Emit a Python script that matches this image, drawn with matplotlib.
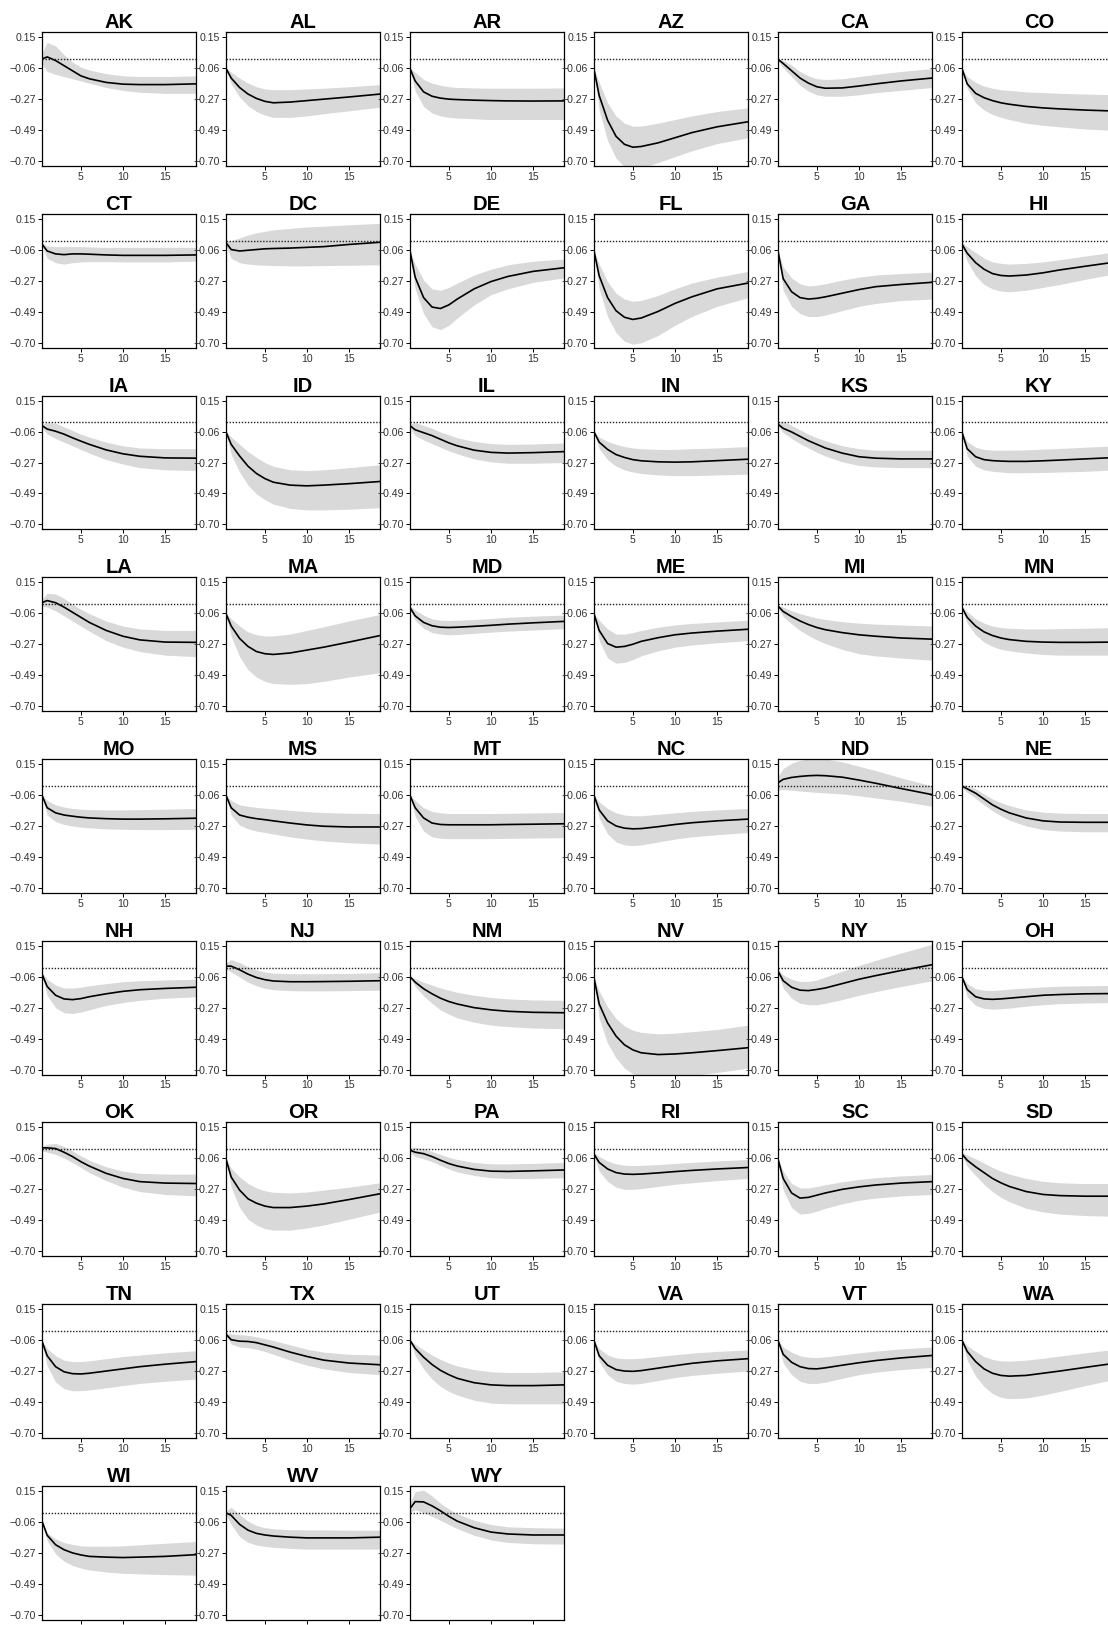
import numpy as np
import matplotlib
matplotlib.use('Agg')
import matplotlib.pyplot as plt

plt.rcParams['font.family'] = ['Liberation Sans', 'DejaVu Sans']

#
# DATA
#
states = ['AK', 'AL', 'AR', 'AZ', 'CA', 'CO',
          'CT', 'DC', 'DE', 'FL', 'GA', 'HI',
          'IA', 'ID', 'IL', 'IN', 'KS', 'KY',
          'LA', 'MA', 'MD', 'ME', 'MI', 'MN',
          'MO', 'MS', 'MT', 'NC', 'ND', 'NE',
          'NH', 'NJ', 'NM', 'NV', 'NY', 'OH',
          'OK', 'OR', 'PA', 'RI', 'SC', 'SD',
          'TN', 'TX', 'UT', 'VA', 'VT', 'WA',
          'WI', 'WV', 'WY']

horizon = [0.35, 1, 2, 3, 4, 5, 6, 8, 10, 12, 15, 18.7]

ytick_vals = [0.15, -0.0625, -0.275, -0.4875, -0.70]
ytick_labels = ['0.15', '\u22120.06', '\u22120.27', '\u22120.49', '\u22120.70']
xtick_vals = [5, 10, 15]

irf_mean = {
    'AK': [0.00, 0.015, -0.01, -0.045, -0.08, -0.115, -0.135, -0.16, -0.172, -0.175, -0.175, -0.17],
    'AL': [-0.06, -0.13, -0.195, -0.24, -0.27, -0.29, -0.30, -0.295, -0.285, -0.275, -0.26, -0.24],
    'AR': [-0.06, -0.15, -0.225, -0.255, -0.268, -0.275, -0.278, -0.282, -0.285, -0.287, -0.288, -0.287],
    'AZ': [-0.06, -0.25, -0.42, -0.53, -0.585, -0.605, -0.60, -0.575, -0.54, -0.505, -0.465, -0.43],
    'CA': [0.00, -0.03, -0.08, -0.13, -0.165, -0.19, -0.20, -0.198, -0.185, -0.17, -0.15, -0.13],
    'CO': [-0.06, -0.17, -0.235, -0.265, -0.285, -0.30, -0.31, -0.325, -0.335, -0.342, -0.35, -0.357],
    'CT': [-0.02, -0.07, -0.09, -0.095, -0.09, -0.09, -0.092, -0.097, -0.10, -0.10, -0.10, -0.097],
    'DC': [-0.01, -0.06, -0.07, -0.065, -0.06, -0.055, -0.053, -0.05, -0.045, -0.04, -0.025, -0.01],
    'DE': [-0.06, -0.25, -0.39, -0.455, -0.465, -0.44, -0.40, -0.33, -0.28, -0.245, -0.21, -0.185],
    'FL': [-0.06, -0.24, -0.39, -0.48, -0.525, -0.54, -0.53, -0.485, -0.43, -0.385, -0.33, -0.29],
    'GA': [-0.06, -0.26, -0.35, -0.39, -0.40, -0.395, -0.385, -0.36, -0.335, -0.315, -0.30, -0.285],
    'HI': [-0.02, -0.085, -0.15, -0.195, -0.225, -0.238, -0.242, -0.235, -0.22, -0.20, -0.175, -0.145],
    'IA': [-0.02, -0.045, -0.06, -0.08, -0.105, -0.128, -0.15, -0.188, -0.215, -0.232, -0.243, -0.245],
    'ID': [-0.06, -0.15, -0.23, -0.30, -0.35, -0.385, -0.41, -0.43, -0.435, -0.43, -0.42, -0.405],
    'IL': [-0.02, -0.05, -0.07, -0.09, -0.115, -0.14, -0.16, -0.19, -0.205, -0.21, -0.207, -0.20],
    'IN': [-0.06, -0.135, -0.185, -0.22, -0.24, -0.255, -0.263, -0.27, -0.272, -0.27, -0.262, -0.252],
    'KS': [-0.01, -0.04, -0.065, -0.095, -0.125, -0.15, -0.175, -0.21, -0.235, -0.245, -0.25, -0.25],
    'KY': [-0.06, -0.18, -0.235, -0.255, -0.262, -0.265, -0.267, -0.267, -0.263, -0.258, -0.25, -0.24],
    'LA': [0.01, 0.025, 0.01, -0.02, -0.055, -0.09, -0.125, -0.18, -0.22, -0.245, -0.26, -0.262],
    'MA': [-0.06, -0.15, -0.235, -0.29, -0.325, -0.34, -0.345, -0.335, -0.315, -0.295, -0.26, -0.215],
    'MD': [-0.02, -0.08, -0.125, -0.148, -0.158, -0.16, -0.158, -0.152, -0.145, -0.137, -0.128, -0.118],
    'ME': [-0.06, -0.18, -0.27, -0.295, -0.29, -0.275, -0.255, -0.23, -0.21, -0.198, -0.185, -0.172],
    'MI': [-0.01, -0.05, -0.085, -0.115, -0.14, -0.16, -0.175, -0.195, -0.21, -0.22, -0.232, -0.24],
    'MN': [-0.02, -0.09, -0.15, -0.19, -0.215, -0.232, -0.243, -0.255, -0.26, -0.262, -0.262, -0.26],
    'MO': [-0.06, -0.15, -0.185, -0.20, -0.208, -0.215, -0.22, -0.225, -0.228, -0.228, -0.226, -0.222],
    'MS': [-0.06, -0.15, -0.20, -0.215, -0.225, -0.232, -0.24, -0.255, -0.268, -0.277, -0.282, -0.282],
    'MT': [-0.06, -0.15, -0.22, -0.255, -0.265, -0.267, -0.267, -0.267, -0.267, -0.265, -0.263, -0.26],
    'NC': [-0.06, -0.165, -0.24, -0.275, -0.29, -0.295, -0.293, -0.28, -0.265, -0.253, -0.24, -0.228],
    'ND': [0.02, 0.045, 0.058, 0.065, 0.07, 0.072, 0.07, 0.06, 0.04, 0.018, -0.018, -0.06],
    'NE': [0.00, -0.02, -0.05, -0.09, -0.13, -0.16, -0.185, -0.22, -0.24, -0.248, -0.25, -0.25],
    'NH': [-0.04, -0.13, -0.19, -0.215, -0.22, -0.213, -0.20, -0.18, -0.163, -0.152, -0.143, -0.135],
    'NJ': [0.01, 0.01, -0.015, -0.045, -0.068, -0.083, -0.092, -0.097, -0.097, -0.096, -0.094, -0.09],
    'NM': [-0.06, -0.10, -0.145, -0.18, -0.21, -0.233, -0.25, -0.275, -0.29, -0.30, -0.307, -0.31],
    'NV': [-0.06, -0.25, -0.38, -0.47, -0.53, -0.565, -0.585, -0.597, -0.593, -0.585, -0.57, -0.55],
    'NY': [-0.02, -0.09, -0.135, -0.155, -0.158, -0.15, -0.14, -0.11, -0.08, -0.055, -0.02, 0.02],
    'OH': [-0.06, -0.15, -0.20, -0.215, -0.218, -0.215, -0.21, -0.20, -0.19, -0.185, -0.18, -0.178],
    'OK': [0.01, 0.01, 0.005, -0.02, -0.05, -0.085, -0.115, -0.165, -0.20, -0.222, -0.232, -0.235],
    'OR': [-0.06, -0.19, -0.28, -0.34, -0.37, -0.39, -0.40, -0.40, -0.39, -0.375, -0.345, -0.305],
    'PA': [-0.005, -0.02, -0.03, -0.05, -0.075, -0.098, -0.115, -0.138, -0.15, -0.152, -0.148, -0.142],
    'RI': [-0.03, -0.09, -0.135, -0.16, -0.17, -0.172, -0.17, -0.162, -0.153, -0.145, -0.135, -0.125],
    'SC': [-0.06, -0.20, -0.30, -0.335, -0.33, -0.315, -0.30, -0.275, -0.258, -0.245, -0.232, -0.222],
    'SD': [-0.03, -0.075, -0.12, -0.16, -0.20, -0.23, -0.255, -0.29, -0.31, -0.318, -0.322, -0.322],
    'TN': [-0.065, -0.17, -0.245, -0.28, -0.293, -0.295, -0.29, -0.275, -0.26, -0.245, -0.228, -0.21],
    'TX': [-0.02, -0.06, -0.07, -0.072, -0.08, -0.095, -0.11, -0.145, -0.175, -0.20, -0.22, -0.232],
    'UT': [-0.06, -0.12, -0.18, -0.23, -0.27, -0.30, -0.325, -0.355, -0.37, -0.375, -0.375, -0.37],
    'VA': [-0.06, -0.17, -0.235, -0.265, -0.275, -0.277, -0.272, -0.255, -0.238, -0.222, -0.205, -0.19],
    'VT': [-0.06, -0.16, -0.215, -0.245, -0.258, -0.26, -0.253, -0.235, -0.218, -0.203, -0.185, -0.168],
    'WA': [-0.06, -0.14, -0.21, -0.26, -0.29, -0.305, -0.31, -0.305, -0.29, -0.275, -0.25, -0.22],
    'WI': [-0.052, -0.155, -0.22, -0.254, -0.276, -0.29, -0.30, -0.305, -0.308, -0.305, -0.30, -0.288],
    'WV': [0.00, -0.018, -0.08, -0.12, -0.142, -0.153, -0.16, -0.168, -0.173, -0.173, -0.173, -0.168],
    'WY': [0.025, 0.076, 0.074, 0.047, 0.013, -0.025, -0.058, -0.103, -0.133, -0.146, -0.153, -0.153],
}

irf_lower = {
    'AK': [-0.03, -0.085, -0.105, -0.12, -0.135, -0.15, -0.165, -0.195, -0.215, -0.228, -0.235, -0.235],
    'AL': [-0.06, -0.17, -0.26, -0.32, -0.36, -0.385, -0.40, -0.40, -0.39, -0.375, -0.355, -0.33],
    'AR': [-0.06, -0.22, -0.325, -0.37, -0.39, -0.40, -0.405, -0.41, -0.415, -0.415, -0.415, -0.415],
    'AZ': [-0.06, -0.35, -0.56, -0.68, -0.74, -0.76, -0.75, -0.71, -0.67, -0.63, -0.58, -0.54],
    'CA': [-0.01, -0.06, -0.12, -0.18, -0.22, -0.245, -0.255, -0.255, -0.245, -0.23, -0.215, -0.195],
    'CO': [-0.06, -0.20, -0.30, -0.35, -0.38, -0.40, -0.415, -0.44, -0.455, -0.465, -0.48, -0.49],
    'CT': [-0.03, -0.12, -0.15, -0.16, -0.15, -0.145, -0.143, -0.143, -0.145, -0.145, -0.145, -0.14],
    'DC': [-0.03, -0.12, -0.15, -0.16, -0.165, -0.168, -0.17, -0.172, -0.172, -0.17, -0.168, -0.165],
    'DE': [-0.06, -0.33, -0.50, -0.59, -0.61, -0.58, -0.53, -0.44, -0.37, -0.33, -0.285, -0.255],
    'FL': [-0.06, -0.33, -0.52, -0.63, -0.69, -0.71, -0.70, -0.65, -0.58, -0.52, -0.45, -0.39],
    'GA': [-0.06, -0.34, -0.45, -0.50, -0.52, -0.52, -0.51, -0.48, -0.45, -0.43, -0.41, -0.40],
    'HI': [-0.03, -0.14, -0.24, -0.30, -0.33, -0.345, -0.35, -0.34, -0.32, -0.30, -0.265, -0.225],
    'IA': [-0.035, -0.08, -0.11, -0.135, -0.16, -0.185, -0.21, -0.255, -0.285, -0.31, -0.325, -0.33],
    'ID': [-0.06, -0.22, -0.34, -0.43, -0.49, -0.53, -0.56, -0.59, -0.60, -0.60, -0.595, -0.585],
    'IL': [-0.035, -0.09, -0.12, -0.145, -0.17, -0.195, -0.215, -0.25, -0.27, -0.28, -0.28, -0.275],
    'IN': [-0.06, -0.18, -0.255, -0.30, -0.325, -0.34, -0.35, -0.36, -0.365, -0.365, -0.36, -0.355],
    'KS': [-0.02, -0.07, -0.11, -0.145, -0.175, -0.205, -0.23, -0.27, -0.295, -0.305, -0.31, -0.31],
    'KY': [-0.06, -0.23, -0.30, -0.325, -0.335, -0.34, -0.345, -0.345, -0.343, -0.34, -0.335, -0.325],
    'LA': [-0.015, -0.02, -0.045, -0.08, -0.115, -0.15, -0.185, -0.25, -0.295, -0.325, -0.35, -0.36],
    'MA': [-0.06, -0.22, -0.36, -0.45, -0.50, -0.53, -0.545, -0.55, -0.545, -0.53, -0.50, -0.47],
    'MD': [-0.03, -0.11, -0.165, -0.195, -0.205, -0.21, -0.208, -0.20, -0.192, -0.185, -0.177, -0.168],
    'ME': [-0.06, -0.25, -0.37, -0.405, -0.40, -0.38, -0.355, -0.32, -0.295, -0.28, -0.265, -0.25],
    'MI': [-0.02, -0.085, -0.135, -0.18, -0.215, -0.245, -0.27, -0.31, -0.34, -0.355, -0.37, -0.385],
    'MN': [-0.03, -0.13, -0.21, -0.26, -0.29, -0.31, -0.32, -0.335, -0.345, -0.35, -0.35, -0.35],
    'MO': [-0.06, -0.20, -0.245, -0.265, -0.275, -0.283, -0.288, -0.295, -0.298, -0.30, -0.30, -0.298],
    'MS': [-0.06, -0.20, -0.27, -0.295, -0.31, -0.32, -0.33, -0.35, -0.365, -0.378, -0.39, -0.40],
    'MT': [-0.06, -0.21, -0.31, -0.35, -0.36, -0.362, -0.362, -0.362, -0.362, -0.36, -0.358, -0.355],
    'NC': [-0.06, -0.22, -0.33, -0.385, -0.405, -0.41, -0.405, -0.385, -0.365, -0.35, -0.335, -0.32],
    'ND': [-0.03, -0.025, -0.03, -0.035, -0.04, -0.045, -0.048, -0.055, -0.068, -0.083, -0.105, -0.14],
    'NE': [-0.01, -0.045, -0.085, -0.13, -0.17, -0.205, -0.235, -0.275, -0.30, -0.31, -0.315, -0.315],
    'NH': [-0.05, -0.19, -0.275, -0.31, -0.315, -0.305, -0.29, -0.26, -0.24, -0.225, -0.21, -0.20],
    'NJ': [-0.01, -0.03, -0.065, -0.10, -0.125, -0.142, -0.152, -0.158, -0.16, -0.16, -0.158, -0.155],
    'NM': [-0.06, -0.13, -0.195, -0.245, -0.29, -0.32, -0.345, -0.375, -0.395, -0.405, -0.415, -0.42],
    'NV': [-0.06, -0.35, -0.52, -0.62, -0.69, -0.73, -0.75, -0.76, -0.75, -0.74, -0.72, -0.69],
    'NY': [-0.03, -0.14, -0.21, -0.245, -0.255, -0.255, -0.245, -0.22, -0.19, -0.165, -0.13, -0.09],
    'OH': [-0.06, -0.20, -0.26, -0.28, -0.285, -0.283, -0.278, -0.265, -0.255, -0.248, -0.243, -0.24],
    'OK': [-0.01, -0.02, -0.035, -0.06, -0.09, -0.125, -0.16, -0.215, -0.26, -0.29, -0.31, -0.32],
    'OR': [-0.06, -0.26, -0.40, -0.48, -0.52, -0.545, -0.555, -0.555, -0.54, -0.52, -0.48, -0.43],
    'PA': [-0.02, -0.05, -0.065, -0.085, -0.11, -0.135, -0.155, -0.18, -0.195, -0.20, -0.20, -0.195],
    'RI': [-0.04, -0.15, -0.22, -0.26, -0.275, -0.275, -0.27, -0.255, -0.24, -0.23, -0.215, -0.20],
    'SC': [-0.06, -0.28, -0.40, -0.445, -0.44, -0.425, -0.405, -0.375, -0.35, -0.335, -0.32, -0.31],
    'SD': [-0.04, -0.115, -0.18, -0.24, -0.29, -0.33, -0.36, -0.405, -0.43, -0.445, -0.455, -0.46],
    'TN': [-0.07, -0.24, -0.35, -0.395, -0.41, -0.41, -0.405, -0.39, -0.375, -0.36, -0.345, -0.33],
    'TX': [-0.03, -0.09, -0.11, -0.115, -0.125, -0.14, -0.16, -0.20, -0.235, -0.26, -0.285, -0.30],
    'UT': [-0.06, -0.17, -0.26, -0.33, -0.38, -0.415, -0.44, -0.475, -0.495, -0.50, -0.50, -0.50],
    'VA': [-0.06, -0.21, -0.30, -0.345, -0.36, -0.365, -0.36, -0.34, -0.32, -0.305, -0.29, -0.275],
    'VT': [-0.06, -0.22, -0.30, -0.345, -0.36, -0.36, -0.352, -0.325, -0.30, -0.283, -0.265, -0.25],
    'WA': [-0.06, -0.20, -0.31, -0.38, -0.43, -0.455, -0.465, -0.46, -0.44, -0.415, -0.375, -0.33],
    'WI': [-0.06, -0.193, -0.283, -0.333, -0.362, -0.38, -0.393, -0.407, -0.416, -0.42, -0.425, -0.429],
    'WV': [-0.01, -0.08, -0.164, -0.204, -0.222, -0.231, -0.238, -0.245, -0.25, -0.25, -0.25, -0.25],
    'WY': [0.00, 0.02, 0.00, -0.025, -0.052, -0.081, -0.11, -0.155, -0.187, -0.204, -0.213, -0.216],
}

irf_upper = {
    'AK': [0.04, 0.115, 0.09, 0.03, -0.02, -0.055, -0.075, -0.10, -0.115, -0.12, -0.12, -0.115],
    'AL': [-0.06, -0.09, -0.13, -0.165, -0.19, -0.205, -0.21, -0.21, -0.205, -0.20, -0.19, -0.175],
    'AR': [-0.06, -0.09, -0.14, -0.165, -0.18, -0.19, -0.195, -0.198, -0.20, -0.20, -0.20, -0.198],
    'AZ': [-0.06, -0.16, -0.30, -0.39, -0.44, -0.46, -0.46, -0.44, -0.415, -0.39, -0.36, -0.335],
    'CA': [0.00, -0.01, -0.04, -0.085, -0.115, -0.135, -0.14, -0.135, -0.12, -0.105, -0.085, -0.065],
    'CO': [-0.06, -0.12, -0.16, -0.185, -0.20, -0.21, -0.215, -0.225, -0.23, -0.235, -0.24, -0.245],
    'CT': [-0.015, -0.035, -0.04, -0.04, -0.04, -0.04, -0.042, -0.045, -0.045, -0.045, -0.045, -0.045],
    'DC': [0.00, 0.00, 0.02, 0.04, 0.055, 0.065, 0.075, 0.085, 0.095, 0.10, 0.11, 0.12],
    'DE': [-0.06, -0.16, -0.27, -0.33, -0.34, -0.32, -0.29, -0.235, -0.195, -0.165, -0.14, -0.125],
    'FL': [-0.06, -0.16, -0.28, -0.36, -0.40, -0.415, -0.41, -0.375, -0.33, -0.29, -0.25, -0.21],
    'GA': [-0.06, -0.18, -0.255, -0.295, -0.31, -0.305, -0.295, -0.27, -0.25, -0.235, -0.225, -0.215],
    'HI': [-0.01, -0.04, -0.08, -0.12, -0.145, -0.155, -0.16, -0.155, -0.145, -0.13, -0.105, -0.075],
    'IA': [-0.01, 0.00, -0.005, -0.03, -0.055, -0.08, -0.10, -0.135, -0.16, -0.175, -0.18, -0.18],
    'ID': [-0.06, -0.10, -0.15, -0.20, -0.24, -0.275, -0.30, -0.325, -0.33, -0.325, -0.31, -0.29],
    'IL': [-0.01, 0.00, -0.02, -0.04, -0.065, -0.085, -0.105, -0.13, -0.145, -0.15, -0.148, -0.14],
    'IN': [-0.06, -0.10, -0.13, -0.15, -0.165, -0.175, -0.18, -0.185, -0.185, -0.18, -0.175, -0.165],
    'KS': [0.00, 0.01, -0.02, -0.05, -0.08, -0.105, -0.125, -0.16, -0.18, -0.19, -0.19, -0.19],
    'KY': [-0.06, -0.13, -0.17, -0.185, -0.19, -0.19, -0.19, -0.188, -0.183, -0.178, -0.17, -0.16],
    'LA': [0.03, 0.075, 0.07, 0.04, 0.00, -0.035, -0.065, -0.115, -0.15, -0.17, -0.18, -0.18],
    'MA': [-0.06, -0.10, -0.15, -0.19, -0.21, -0.218, -0.218, -0.205, -0.18, -0.155, -0.115, -0.07],
    'MD': [-0.01, -0.04, -0.075, -0.10, -0.11, -0.112, -0.11, -0.105, -0.098, -0.09, -0.082, -0.075],
    'ME': [-0.06, -0.11, -0.17, -0.205, -0.205, -0.195, -0.18, -0.158, -0.142, -0.132, -0.122, -0.11],
    'MI': [-0.005, -0.02, -0.045, -0.065, -0.08, -0.095, -0.105, -0.12, -0.13, -0.137, -0.143, -0.15],
    'MN': [-0.01, -0.05, -0.10, -0.13, -0.15, -0.16, -0.165, -0.17, -0.17, -0.168, -0.165, -0.16],
    'MO': [-0.06, -0.10, -0.13, -0.145, -0.155, -0.16, -0.163, -0.165, -0.165, -0.163, -0.16, -0.155],
    'MS': [-0.06, -0.10, -0.13, -0.14, -0.148, -0.153, -0.158, -0.168, -0.177, -0.183, -0.188, -0.19],
    'MT': [-0.06, -0.10, -0.15, -0.175, -0.185, -0.19, -0.19, -0.19, -0.19, -0.188, -0.186, -0.183],
    'NC': [-0.06, -0.11, -0.155, -0.185, -0.20, -0.205, -0.205, -0.195, -0.185, -0.175, -0.165, -0.155],
    'ND': [0.06, 0.12, 0.155, 0.175, 0.185, 0.19, 0.185, 0.165, 0.135, 0.105, 0.055, 0.00],
    'NE': [0.01, 0.005, -0.02, -0.055, -0.09, -0.115, -0.135, -0.165, -0.18, -0.187, -0.19, -0.19],
    'NH': [-0.03, -0.08, -0.12, -0.14, -0.14, -0.135, -0.125, -0.11, -0.097, -0.09, -0.085, -0.08],
    'NJ': [0.03, 0.055, 0.035, 0.005, -0.015, -0.03, -0.038, -0.042, -0.042, -0.042, -0.04, -0.035],
    'NM': [-0.06, -0.075, -0.10, -0.12, -0.14, -0.155, -0.17, -0.19, -0.205, -0.215, -0.222, -0.225],
    'NV': [-0.06, -0.16, -0.27, -0.35, -0.40, -0.43, -0.445, -0.455, -0.45, -0.44, -0.425, -0.395],
    'NY': [-0.01, -0.05, -0.08, -0.095, -0.095, -0.085, -0.065, -0.025, 0.015, 0.05, 0.10, 0.16],
    'OH': [-0.06, -0.11, -0.145, -0.155, -0.157, -0.153, -0.148, -0.14, -0.133, -0.128, -0.125, -0.122],
    'OK': [0.02, 0.035, 0.04, 0.02, -0.01, -0.045, -0.075, -0.12, -0.15, -0.165, -0.17, -0.17],
    'OR': [-0.06, -0.13, -0.19, -0.235, -0.265, -0.285, -0.295, -0.30, -0.293, -0.28, -0.26, -0.23],
    'PA': [0.01, 0.015, 0.005, -0.015, -0.035, -0.055, -0.07, -0.09, -0.10, -0.10, -0.097, -0.09],
    'RI': [-0.02, -0.05, -0.08, -0.10, -0.11, -0.112, -0.11, -0.105, -0.097, -0.09, -0.08, -0.07],
    'SC': [-0.06, -0.15, -0.235, -0.265, -0.265, -0.255, -0.243, -0.223, -0.207, -0.195, -0.183, -0.173],
    'SD': [-0.02, -0.04, -0.065, -0.095, -0.125, -0.15, -0.17, -0.20, -0.22, -0.23, -0.235, -0.235],
    'TN': [-0.06, -0.12, -0.17, -0.20, -0.21, -0.21, -0.205, -0.19, -0.175, -0.165, -0.15, -0.135],
    'TX': [-0.01, -0.02, -0.025, -0.03, -0.04, -0.052, -0.065, -0.095, -0.125, -0.145, -0.16, -0.165],
    'UT': [-0.06, -0.09, -0.13, -0.165, -0.195, -0.22, -0.24, -0.265, -0.28, -0.285, -0.285, -0.28],
    'VA': [-0.06, -0.12, -0.165, -0.185, -0.19, -0.19, -0.187, -0.175, -0.163, -0.152, -0.14, -0.13],
    'VT': [-0.06, -0.11, -0.145, -0.17, -0.18, -0.182, -0.178, -0.165, -0.15, -0.138, -0.123, -0.11],
    'WA': [-0.06, -0.10, -0.14, -0.175, -0.195, -0.205, -0.207, -0.20, -0.187, -0.172, -0.15, -0.125],
    'WI': [-0.06, -0.137, -0.18, -0.205, -0.218, -0.227, -0.23, -0.23, -0.228, -0.22, -0.21, -0.198],
    'WV': [0.01, 0.038, -0.013, -0.058, -0.088, -0.103, -0.11, -0.117, -0.118, -0.118, -0.12, -0.12],
    'WY': [0.065, 0.144, 0.155, 0.115, 0.065, 0.025, -0.007, -0.052, -0.081, -0.097, -0.103, -0.106],
}

#
# LAYOUT (pixels)
#
FIG_W, FIG_H = 1108, 1625
NCOL = 6
AX_LEFT0, AX_TOP0 = 41.7, 32.3
COL_STEP, ROW_STEP = 184.0, 181.7
AX_W, AX_H = 154.5, 133.7

fig = plt.figure(figsize=(FIG_W / 100, FIG_H / 100), dpi=100)

for i, st in enumerate(states):
    row, col = divmod(i, NCOL)
    left = AX_LEFT0 + COL_STEP * col
    top = AX_TOP0 + ROW_STEP * row
    ax = fig.add_axes([left / FIG_W, 1 - (top + AX_H) / FIG_H,
                       AX_W / FIG_W, AX_H / FIG_H])

    ax.fill_between(horizon, irf_lower[st], irf_upper[st],
                    color='#d9d9d9', linewidth=0)
    ax.plot(horizon, irf_mean[st], color='black', linewidth=1.2)
    ax.axhline(0, color='#222222', linewidth=1.0, linestyle=(0, (1, 1.2)))

    ax.set_xlim(horizon[0], horizon[-1])
    ax.set_ylim(-0.734, 0.184)
    ax.set_yticks(ytick_vals)
    ax.set_yticklabels(ytick_labels)
    ax.set_xticks(xtick_vals)

    ax.tick_params(direction='out', length=3, width=0.7, labelsize=7.6,
                   pad=1.2, labelcolor='#333333')
    for sp in ax.spines.values():
        sp.set_linewidth(0.9)
        sp.set_color('black')

    ax.set_title(st, fontsize=14.5, fontweight='bold', pad=1.2)

fig.savefig('out.png', dpi=100)
